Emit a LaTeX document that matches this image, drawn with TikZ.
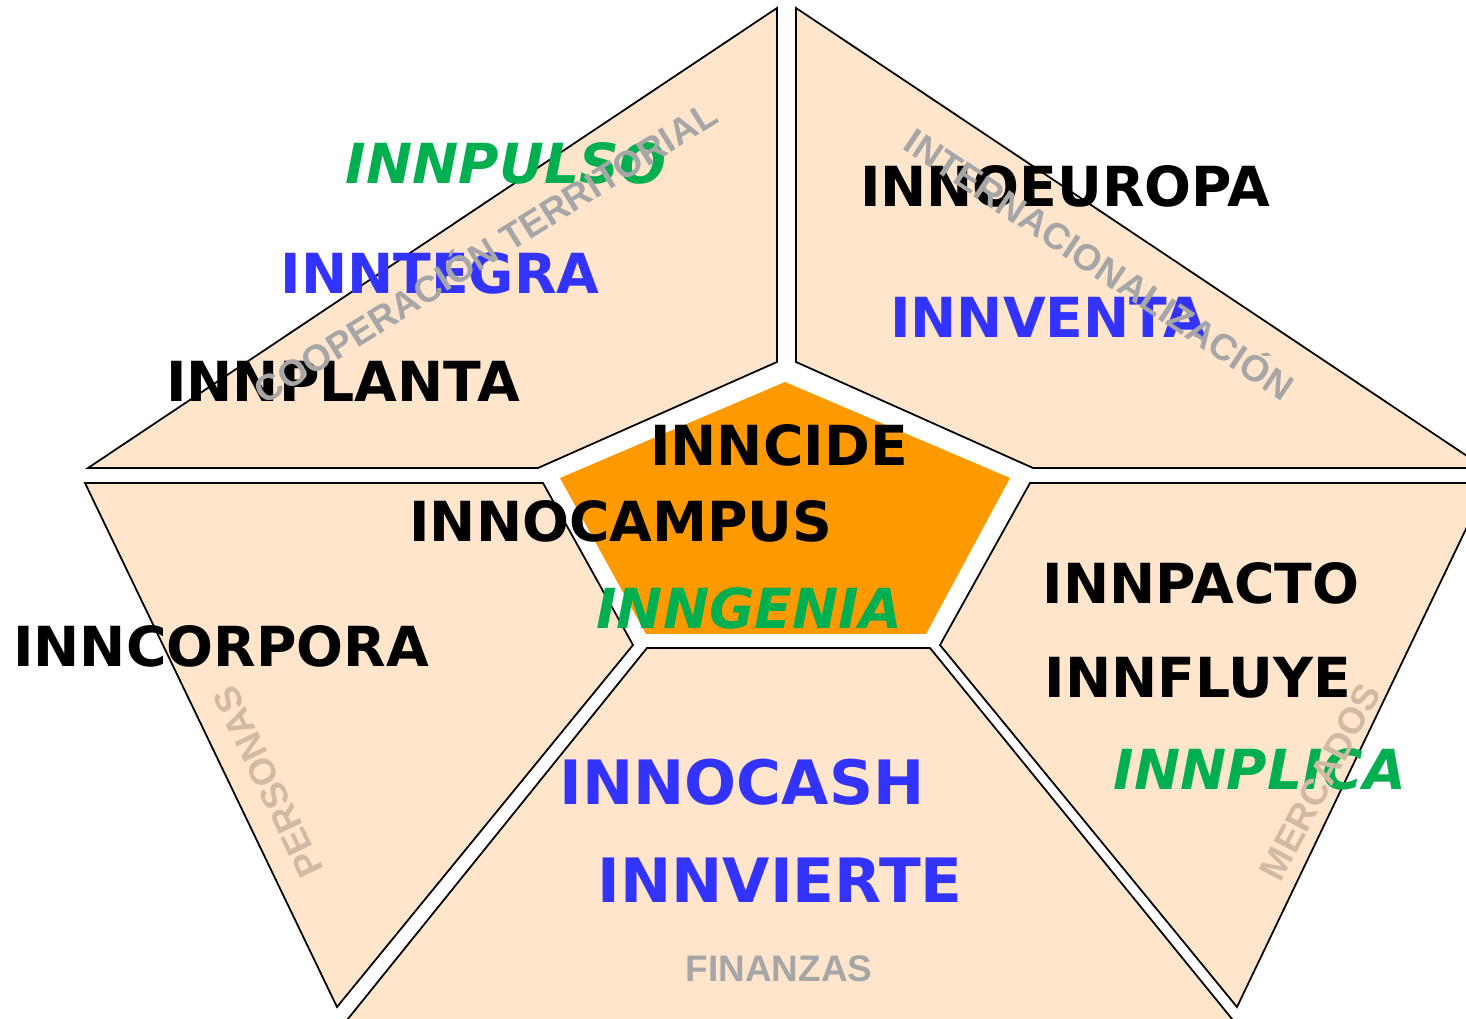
\documentclass[tikz,border=0pt]{standalone}
\usepackage{fontspec}
\setmainfont{DejaVu Sans}
\newfontfamily\arialfont{Liberation Sans}
\definecolor{peach}{RGB}{255,229,204}
\definecolor{coreorange}{RGB}{255,153,0}
\definecolor{progblue}{RGB}{51,51,255}
\definecolor{proggreen}{RGB}{0,176,80}
\definecolor{areagray}{RGB}{166,166,166}
\definecolor{areatan}{RGB}{208,186,163}
\tikzset{
  seg/.style={draw, line width=0.5pt, fill=peach, line join=miter},
  core/.style={fill=coreorange},
  prog/.style={inner sep=0pt, font=\bfseries\fontsize{15.7}{18}\selectfont},
  progbig/.style={inner sep=0pt, font=\bfseries\fontsize{17.4}{20}\selectfont},
  progit/.style={prog, font=\bfseries\itshape\fontsize{15.7}{18}\selectfont},
  area/.style={inner sep=0pt, text=areagray, font=\arialfont\bfseries\fontsize{10.5}{12}\selectfont},
}
\begin{document}
\begin{tikzpicture}[x=0.01cm,y=-0.01cm]
\useasboundingbox (0,0) rectangle (1466,1019);
\clip (0,0) rectangle (1466,1019);
% segment corners
\coordinate (tl0) at (777,8);
\coordinate (tl1) at (88,468);
\coordinate (tl2) at (538,468);
\coordinate (tl3) at (777,362);
\coordinate (tr0) at (796,8);
\coordinate (tr1) at (796,362);
\coordinate (tr2) at (1033,468);
\coordinate (tr3) at (1485,468);
\coordinate (rt0) at (1030,483);
\coordinate (rt1) at (1488,483);
\coordinate (rt2) at (1237,1007);
\coordinate (rt3) at (940,645);
\coordinate (bt0) at (647,648);
\coordinate (bt1) at (930,648);
\coordinate (bt2) at (1241,1030);
\coordinate (bt3) at (339,1030);
\coordinate (lf0) at (85,483);
\coordinate (lf1) at (543,483);
\coordinate (lf2) at (633,645);
\coordinate (lf3) at (337,1007);
\draw[seg] (tl0) -- (tl1) -- (tl2) -- (tl3) -- cycle;
\draw[seg] (tr0) -- (tr1) -- (tr2) -- (tr3) -- cycle;
\draw[seg] (rt0) -- (rt1) -- (rt2) -- (rt3) -- cycle;
\draw[seg] (bt0) -- (bt1) -- (bt2) -- (bt3) -- cycle;
\draw[seg] (lf0) -- (lf1) -- (lf2) -- (lf3) -- cycle;
% centre
\coordinate (c0) at (785,382);
\coordinate (c1) at (1010,478);
\coordinate (c2) at (926,634);
\coordinate (c3) at (646,634);
\coordinate (c4) at (560,478);
\fill[core] (c0) -- (c1) -- (c2) -- (c3) -- (c4) -- cycle;
% programmes
\node[progit, text=proggreen] (innpulso) at (506,163) {INNPULSO};
\node[prog, text=progblue] (inntegra) at (440,273) {INNTEGRA};
\node[prog] (innplanta) at (343,381) {INNPLANTA};
\node[prog] (innoeuropa) at (1065,186) {INNOEUROPA};
\node[prog, text=progblue] (innventa) at (1048,317) {INNVENTA};
\node[prog] (inncide) at (779,445) {INNCIDE};
\node[prog] (innocampus) at (621,521) {INNOCAMPUS};
\node[progit, text=proggreen] (inngenia) at (749,608) {INNGENIA};
\node[prog] (inncorpora) at (221,646) {INNCORPORA};
\node[prog] (innpacto) at (1201,583) {INNPACTO};
\node[prog] (innfluye) at (1198,678) {INNFLUYE};
\node[progit, text=proggreen] (innplica) at (1260,769) {INNPLICA};
\node[progbig, text=progblue] (innocash) at (742,782) {INNOCASH};
\node[progbig, text=progblue] (innvierte) at (780,880) {INNVIERTE};
% areas
\node[area, rotate=32] (cooperacion) at (484,250) {COOPERACIÓN TERRITORIAL};
\node[area, rotate=-33.6] (internac) at (1101,262) {INTERNACIONALIZACIÓN};
\node[area, text=areatan, rotate=115.7] (personas) at (268,782) {PERSONAS};
\node[area, text=areatan, rotate=62] (mercados) at (1320,782) {MERCADOS};
\node[area] (finanzas) at (779,969) {FINANZAS};
\end{tikzpicture}
\end{document}
